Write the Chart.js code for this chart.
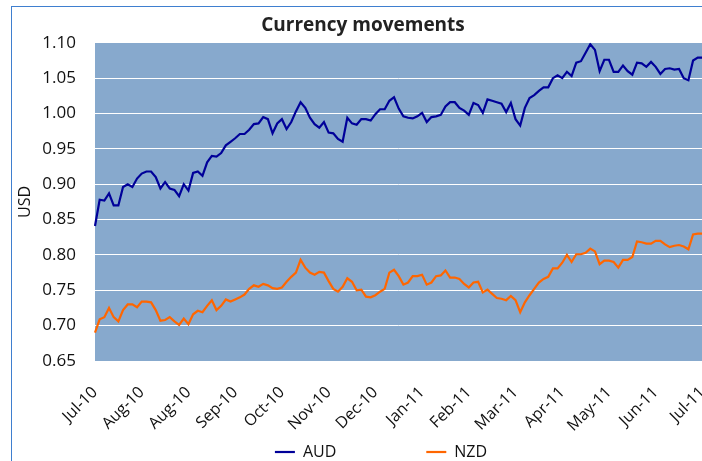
<!DOCTYPE html>
<html>
<head>
<meta charset="utf-8">
<script src="https://cdn.jsdelivr.net/npm/chart.js@4/dist/chart.umd.min.js"></script>
<style>
  html, body { margin: 0; padding: 0; background: #fff; overflow: hidden; width: 702px; height: 461px; }
  #frame { position: absolute; left: 11px; top: 6px; width: 740px; height: 560px; border: 1px solid #3f7fcf; }
  #wrap { position: absolute; left: 0; top: 0; width: 730px; height: 547px; }
</style>
</head>
<body>
<div id="frame"></div>
<div id="wrap"><canvas id="fxChart"></canvas></div>
<script>
// month labels shown every 10 points along the x axis
const tickLabels = ['Jul-10', 'Aug-10', 'Aug-10', 'Sep-10', 'Oct-10', 'Nov-10', 'Dec-10',
                    'Jan-11', 'Feb-11', 'Mar-11', 'Apr-11', 'May-11', 'Jun-11', 'Jul-11'];
const pointsPerLabel = 10;

const aud = [
  0.841, 0.878, 0.877, 0.887, 0.870, 0.870, 0.896, 0.900, 0.896, 0.908,
  0.915, 0.918, 0.918, 0.910, 0.894, 0.903, 0.894, 0.892, 0.883, 0.900,
  0.891, 0.916, 0.918, 0.912, 0.931, 0.940, 0.939, 0.944, 0.955, 0.960,
  0.965, 0.971, 0.971, 0.977, 0.985, 0.986, 0.995, 0.992, 0.972, 0.986,
  0.992, 0.978, 0.988, 1.003, 1.016, 1.008, 0.994, 0.985, 0.980, 0.988,
  0.973, 0.972, 0.964, 0.960, 0.994, 0.986, 0.984, 0.992, 0.992, 0.990,
  0.999, 1.006, 1.006, 1.018, 1.023, 1.007, 0.996, 0.994, 0.993, 0.996,
  1.001, 0.988, 0.995, 0.996, 0.998, 1.010, 1.016, 1.016, 1.008, 1.004,
  0.998, 1.015, 1.012, 1.001, 1.020, 1.018, 1.016, 1.014, 1.002, 1.015,
  0.992, 0.983, 1.008, 1.022, 1.026, 1.032, 1.037, 1.037, 1.050, 1.054,
  1.050, 1.059, 1.053, 1.072, 1.074, 1.086, 1.098, 1.090, 1.060, 1.076,
  1.076, 1.059, 1.059, 1.068, 1.060, 1.055, 1.072, 1.071, 1.066, 1.073,
  1.066, 1.056, 1.063, 1.064, 1.062, 1.063, 1.050, 1.047, 1.075, 1.079,
  1.079
];

const nzd = [
  0.690, 0.709, 0.712, 0.725, 0.712, 0.706, 0.722, 0.730, 0.730, 0.726,
  0.734, 0.734, 0.733, 0.722, 0.707, 0.708, 0.712, 0.706, 0.701, 0.710,
  0.702, 0.716, 0.721, 0.719, 0.728, 0.736, 0.722, 0.728, 0.737, 0.734,
  0.737, 0.740, 0.744, 0.752, 0.757, 0.755, 0.759, 0.757, 0.753, 0.752,
  0.754, 0.762, 0.769, 0.775, 0.793, 0.782, 0.775, 0.772, 0.776, 0.775,
  0.763, 0.752, 0.748, 0.755, 0.767, 0.762, 0.750, 0.751, 0.741, 0.740,
  0.743, 0.748, 0.752, 0.775, 0.779, 0.770, 0.758, 0.761, 0.770, 0.770,
  0.772, 0.758, 0.761, 0.770, 0.771, 0.778, 0.768, 0.768, 0.766, 0.759,
  0.754, 0.761, 0.762, 0.747, 0.751, 0.745, 0.739, 0.738, 0.736, 0.742,
  0.736, 0.719, 0.733, 0.743, 0.752, 0.761, 0.766, 0.769, 0.781, 0.781,
  0.789, 0.800, 0.790, 0.801, 0.801, 0.803, 0.809, 0.805, 0.787, 0.792,
  0.792, 0.790, 0.782, 0.793, 0.793, 0.797, 0.819, 0.818, 0.816, 0.816,
  0.820, 0.820, 0.815, 0.811, 0.813, 0.814, 0.812, 0.808, 0.829, 0.830,
  0.830
];

const categories = aud.map((_, i) => i % pointsPerLabel === 0 ? tickLabels[i / pointsPerLabel] : '');

const FONT = "'Open Sans', sans-serif";
const LEGEND_GAP = 90;

// steel blue plot background
const plotBg = {
  id: 'plotBg',
  beforeDraw(chart) {
    const { ctx, chartArea: a } = chart;
    ctx.save();
    ctx.fillStyle = '#87a9cd';
    ctx.fillRect(a.left, a.top, a.right - a.left, a.bottom - a.top);
    ctx.restore();
  }
};

// put the legend row just under the rotated month labels
const legendSpot = {
  id: 'legendSpot',
  afterLayout(chart) {
    const lg = chart.legend;
    const h = lg.height;
    lg.left += 18;
    lg.right += 18;
    lg.top = 452 - LEGEND_GAP - 8;
    lg.bottom = lg.top + h;
  }
};

new Chart(document.getElementById('fxChart'), {
  type: 'line',
  data: {
    labels: categories,
    datasets: [
      { label: 'AUD', data: aud, borderColor: '#000099', backgroundColor: '#000099', borderWidth: 2.2, pointRadius: 0, tension: 0 },
      { label: 'NZD', data: nzd, borderColor: '#ff6600', backgroundColor: '#ff6600', borderWidth: 2.2, pointRadius: 0, tension: 0 }
    ]
  },
  options: {
    responsive: true,
    maintainAspectRatio: false,
    animation: false,
    layout: { padding: { left: 12, right: 16, top: 0, bottom: 0 } },
    plugins: {
      title: {
        display: true,
        text: 'Currency movements',
        color: '#222',
        font: { family: FONT, size: 19, weight: 'bold' },
        padding: { top: 14, bottom: 6 }
      },
      legend: {
        position: 'bottom',
        labels: {
          color: '#111',
          font: { family: FONT, size: 16 },
          usePointStyle: true,
          pointStyle: 'line',
          pointStyleWidth: 20,
          padding: LEGEND_GAP
        }
      },
      tooltip: { enabled: false }
    },
    scales: {
      x: {
        grid: { display: false },
        border: { display: false },
        ticks: {
          autoSkip: false,
          maxRotation: 45,
          minRotation: 45,
          padding: 14,
          color: '#111',
          font: { family: FONT, size: 16 }
        },
        afterFit(s) { s.height = 70; }
      },
      y: {
        min: 0.65,
        max: 1.10,
        grid: { color: '#ffffff', lineWidth: 1, drawTicks: false },
        border: { display: false },
        ticks: {
          stepSize: 0.05,
          padding: 19,
          color: '#111',
          font: { family: FONT, size: 17 },
          callback: v => v.toFixed(2)
        },
        title: {
          display: true,
          text: 'USD',
          color: '#111',
          font: { family: FONT, size: 16 },
          padding: { top: 4, bottom: 4 }
        },
        afterFit(s) { s.width = 83; }
      }
    }
  },
  plugins: [plotBg, legendSpot]
});
</script>
</body>
</html>
